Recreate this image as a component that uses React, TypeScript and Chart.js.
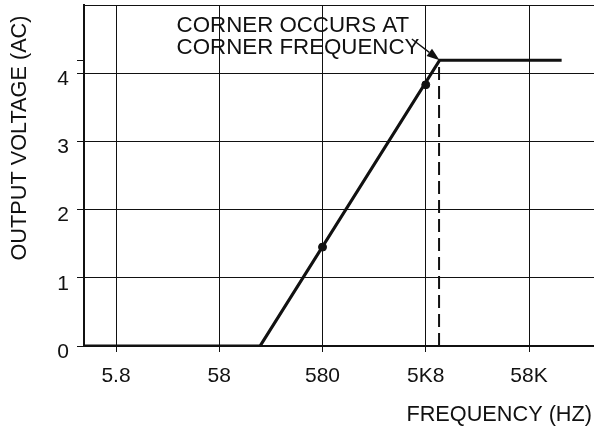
import React, { useEffect, useRef } from "react";
import { Chart, registerables } from "chart.js";

Chart.register(...registerables);

// ---- data ----
const xMinFreq = 2.84;
const xMaxFreq = 247000;
const xTickValues = [5.8, 58, 580, 5800, 58000];
const xTickLabels = ["5.8", "58", "580", "5K8", "58K"];
const yTickValues = [0, 1, 2, 3, 4];
const yMin = 0;
const yMax = 5;

const lineFreq = [2.84, 144, 7900, 120000];
const lineVolt = [0, 0, 4.19, 4.19];

const dotFreq = [580, 5800];
const dotVolt = [1.45, 3.83];

const cornerFreq = 7900;
const cornerVolt = 4.19;
const dashFreq = [7800, 7800];
const dashVolt = [0, 4.19];

const noteLines = ["CORNER OCCURS AT", "CORNER FREQUENCY"];
const noteFreq = 22.4;
const noteVolt = [4.6, 4.28];
const arrowFromFreq = 4250;
const arrowFromVolt = 4.5;

const xTitle = "FREQUENCY (HZ)";
const yTitle = "OUTPUT VOLTAGE (AC)";

const INK = "#111";
const FONT_FAMILY = '"Liberation Sans", Arial, Helvetica, sans-serif';
const FONT_SIZE = 21;
const NOTE_SIZE = 22.3;
const TITLE_SIZE = 21.7;

const pts = (xs: number[], ys: number[]) => xs.map((x, i) => ({ x, y: ys[i] }));

const annotationPlugin = {
  id: "annotations",
  afterDraw(chart: any) {
    const { ctx, scales } = chart;
    const xs = scales.x;
    const ys = scales.y;
    ctx.save();
    ctx.fillStyle = INK;
    ctx.strokeStyle = INK;
    ctx.font = `${NOTE_SIZE}px ${FONT_FAMILY}`;
    ctx.textAlign = "left";
    ctx.textBaseline = "alphabetic";
    const tx = xs.getPixelForValue(noteFreq);
    noteLines.forEach((s, i) => ctx.fillText(s, tx, ys.getPixelForValue(noteVolt[i])));

    // arrow
    const x0 = xs.getPixelForValue(arrowFromFreq);
    const y0 = ys.getPixelForValue(arrowFromVolt);
    const x1 = xs.getPixelForValue(cornerFreq);
    const y1 = ys.getPixelForValue(cornerVolt);
    const ang = Math.atan2(y1 - y0, x1 - x0);
    const hl = 13;
    const hw = 4.5;
    const bx = x1 - hl * Math.cos(ang);
    const by = y1 - hl * Math.sin(ang);
    ctx.lineWidth = 1.3;
    ctx.beginPath();
    ctx.moveTo(x0, y0);
    ctx.lineTo(bx, by);
    ctx.stroke();
    ctx.beginPath();
    ctx.moveTo(x1, y1);
    ctx.lineTo(bx + hw * Math.sin(ang), by - hw * Math.cos(ang));
    ctx.lineTo(bx - hw * Math.sin(ang), by + hw * Math.cos(ang));
    ctx.closePath();
    ctx.fill();

    // axis titles
    ctx.font = `${TITLE_SIZE}px ${FONT_FAMILY}`;
    ctx.textAlign = "right";
    ctx.fillText(xTitle, 592, 421);
    ctx.translate(26, 138);
    ctx.rotate(-Math.PI / 2);
    ctx.textAlign = "center";
    ctx.fillText(yTitle, 0, 0);
    ctx.restore();
  },
};

export default function App() {
  const ref = useRef<HTMLCanvasElement>(null);
  useEffect(() => {
    if (!ref.current) return;
    const tickFont = { family: FONT_FAMILY, size: FONT_SIZE };
    const chart = new Chart(ref.current, {
      type: "scatter",
      data: {
        datasets: [
          {
            data: pts(lineFreq, lineVolt),
            showLine: true,
            borderColor: INK,
            borderWidth: 3.2,
            pointRadius: 0,
            tension: 0,
          },
          {
            data: pts(dashFreq, dashVolt),
            showLine: true,
            borderColor: INK,
            borderWidth: 2,
            borderDash: [13, 6],
            pointRadius: 0,
          },
          {
            data: pts(dotFreq, dotVolt),
            showLine: false,
            pointRadius: 4,
            pointBackgroundColor: INK,
            pointBorderColor: INK,
          },
        ],
      } as any,
      options: {
        animation: false,
        responsive: false,
        maintainAspectRatio: false,
        layout: { autoPadding: false, padding: { top: 5, right: 0, left: 0, bottom: 0 } },
        plugins: { legend: { display: false }, tooltip: { enabled: false } },
        scales: {
          x: {
            type: "logarithmic",
            min: xMinFreq,
            max: xMaxFreq,
            afterBuildTicks: (s: any) => {
              s.ticks = xTickValues.map((v) => ({ value: v }));
            },
            afterFit: (s: any) => {
              s.height = 82;
              s.paddingLeft = 0;
              s.paddingRight = 0;
            },
            ticks: {
              autoSkip: false,
              maxRotation: 0,
              color: INK,
              font: tickFont,
              padding: 12,
              callback: (v: any) => {
                const i = xTickValues.indexOf(Number(v));
                return i >= 0 ? xTickLabels[i] : "";
              },
            },
            grid: { color: INK, lineWidth: 1, tickColor: INK, tickLength: 6 },
            border: { color: INK, width: 2 },
          },
          y: {
            type: "linear",
            min: yMin,
            max: yMax,
            afterBuildTicks: (s: any) => {
              s.ticks = [...yTickValues, cornerVolt, yMax].map((v) => ({ value: v }));
            },
            afterFit: (s: any) => {
              s.width = 84;
              s.paddingTop = 0;
              s.paddingBottom = 0;
            },
            ticks: {
              autoSkip: false,
              color: INK,
              font: tickFont,
              padding: 8,
              labelOffset: 6,
              callback: (v: any) => (yTickValues.includes(Number(v)) ? String(v) : ""),
            },
            grid: {
              color: (c: any) => (c.tick && c.tick.value === cornerVolt ? "rgba(0,0,0,0)" : INK),
              tickColor: (c: any) => (c.tick && c.tick.value === yMax ? "rgba(0,0,0,0)" : INK),
              lineWidth: 1,
              tickLength: 7,
            },
            border: { color: INK, width: 2 },
          },
        },
      },
      plugins: [annotationPlugin],
    } as any);
    return () => chart.destroy();
  }, []);
  return (
    <div style={{ position: "absolute", left: 0, top: 0, width: 594, height: 428, background: "#fff" }}>
      <canvas ref={ref} width={594} height={428} style={{ display: "block" }} />
    </div>
  );
}
